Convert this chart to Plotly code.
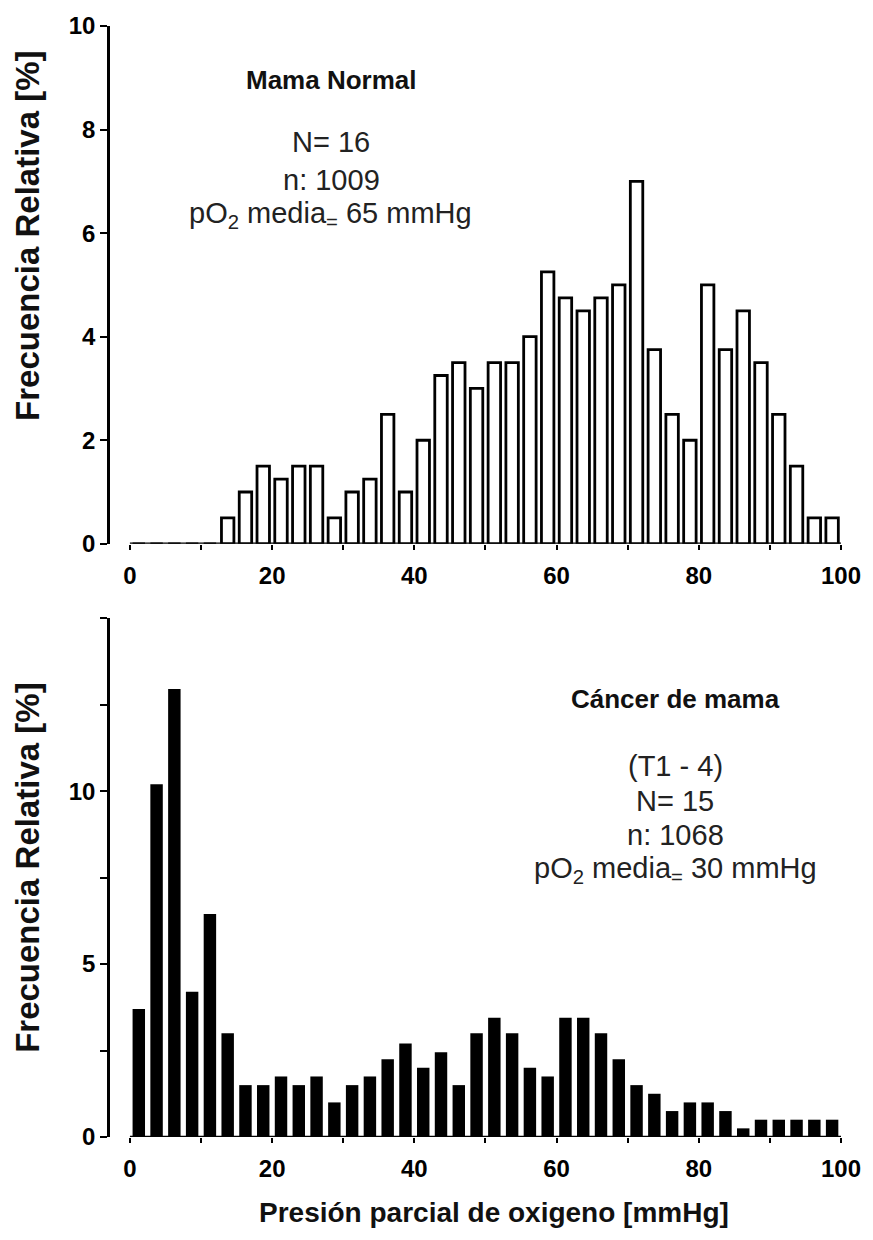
import plotly.graph_objects as go

# ---- data ----
bin_centers = [1.25, 3.75, 6.25, 8.75, 11.25, 13.75, 16.25, 18.75, 21.25, 23.75,
               26.25, 28.75, 31.25, 33.75, 36.25, 38.75, 41.25, 43.75, 46.25, 48.75,
               51.25, 53.75, 56.25, 58.75, 61.25, 63.75, 66.25, 68.75, 71.25, 73.75,
               76.25, 78.75, 81.25, 83.75, 86.25, 88.75, 91.25, 93.75, 96.25, 98.75]

normal_freq = [0, 0, 0, 0, 0, 0.5, 1.0, 1.5, 1.25, 1.5,
               1.5, 0.5, 1.0, 1.25, 2.5, 1.0, 2.0, 3.25, 3.5, 3.0,
               3.5, 3.5, 4.0, 5.25, 4.75, 4.5, 4.75, 5.0, 7.0, 3.75,
               2.5, 2.0, 5.0, 3.75, 4.5, 3.5, 2.5, 1.5, 0.5, 0.5]

cancer_freq = [3.7, 10.2, 12.95, 4.2, 6.45, 3.0, 1.5, 1.5, 1.75, 1.5,
               1.75, 1.0, 1.5, 1.75, 2.25, 2.7, 2.0, 2.45, 1.5, 3.0,
               3.45, 3.0, 2.0, 1.75, 3.45, 3.45, 3.0, 2.25, 1.5, 1.25,
               0.75, 1.0, 1.0, 0.75, 0.25, 0.5, 0.5, 0.5, 0.5, 0.5]

x_tickvals = [0, 20, 40, 60, 80, 100]
x_ticktext = ['0', '20', '40', '60', '80', '100']
x_minor_vals = [10, 30, 50, 70, 90]
y1_tickvals = [0, 2, 4, 6, 8, 10]
y1_ticktext = ['0', '2', '4', '6', '8', '10']
y2_tickvals = [0, 5, 10]
y2_ticktext = ['0', '5', '10']
y2_minor_vals = [2.5, 7.5, 12.5, 15]

# ---- layout helpers (pixel -> paper) ----
W, H = 873, 1240
L, R, T, B = 110, 26, 17, 103
PW, PH = W - L - R, H - T - B


def px(x):
    return (x - L) / PW


def py(y):
    return (H - B - y) / PH


FONT = "Liberation Sans, Arial, Helvetica, sans-serif"
TXT = "#222222"

fig = go.Figure()
fig.add_trace(go.Bar(x=bin_centers, y=normal_freq, xaxis="x", yaxis="y",
                     marker=dict(color="white", line=dict(color="black", width=2.8)),
                     showlegend=False))
fig.add_trace(go.Bar(x=bin_centers, y=cancer_freq, xaxis="x2", yaxis="y2",
                     marker=dict(color="black", line=dict(color="black", width=0)),
                     showlegend=False))

tickfont = dict(family=FONT, size=24, color="black", weight="bold")
xminor = dict(tickvals=x_minor_vals, ticks="outside", ticklen=5, tickwidth=2,
              tickcolor="black", showgrid=False)
xcommon = dict(range=[-2.8, 100], tickmode="array", tickvals=x_tickvals, ticktext=x_ticktext,
               showline=False, showgrid=False, zeroline=False,
               ticks="outside", ticklen=5, tickwidth=2, tickcolor="black",
               tickfont=tickfont, ticklabelstandoff=5, minor=xminor)
ycommon = dict(showline=True, linewidth=2.5, linecolor="black", showgrid=False,
               zeroline=False, ticks="outside", ticklen=7, tickwidth=2,
               tickcolor="black", tickfont=tickfont, tickmode="array")

top_dom = [py(539), 1.0]
bot_dom = [0.0, py(614)]

fig.update_layout(
    width=W, height=H,
    margin=dict(l=L, r=R, t=T, b=B),
    paper_bgcolor="white", plot_bgcolor="white",
    bargap=0.3,
    xaxis=dict(domain=[0, 1], anchor="y", **xcommon),
    yaxis=dict(domain=top_dom, anchor="x", range=[0, 10],
               tickvals=y1_tickvals, ticktext=y1_ticktext, **ycommon),
    xaxis2=dict(domain=[0, 1], anchor="y2", **xcommon),
    yaxis2=dict(domain=bot_dom, anchor="x2", range=[0, 15],
                tickvals=y2_tickvals, ticktext=y2_ticktext,
                minor=dict(tickvals=y2_minor_vals, ticks="outside", ticklen=7,
                           tickwidth=2, tickcolor="black", showgrid=False),
                **ycommon),
)

# x-axis baselines (offset from the y-axis, starting at 0)
for xr, yr in (("x", "y"), ("x2", "y2")):
    fig.add_shape(type="line", xref=xr, yref=yr, x0=0, x1=100, y0=0, y1=0,
                  line=dict(color="black", width=2.5), layer="above")


def note(text, x, y, size, bold=False, angle=0):
    fig.add_annotation(text=text, xref="paper", yref="paper", x=px(x), y=py(y),
                       xanchor="center", yanchor="middle", showarrow=False,
                       textangle=angle,
                       font=dict(family=FONT, size=size, color=TXT if not bold else "#111111",
                                 weight="bold" if bold else "normal"))


# panel texts
note("Mama Normal", 333, 71, 26, bold=True)
note("N= 16", 333, 134, 29)
note("n: 1009", 333, 172, 29)
note("pO<sub>2</sub> media<sub>=</sub> 65 mmHg", 332, 208, 29)

note("Cáncer de mama", 680, 695, 26, bold=True)
note("(T1 - 4)", 680, 763, 29)
note("N= 15", 680, 798, 29)
note("n: 1068", 680, 833, 29)
note("pO<sub>2</sub> media<sub>=</sub> 30 mmHg", 680, 868, 29)

# axis titles
note("Frecuencia Relativa [%]", 27, 229, 33, bold=True, angle=-90)
note("Frecuencia Relativa [%]", 27, 866, 33, bold=True, angle=-90)
note("Presión parcial de oxigeno [mmHg]", 497, 1213, 28, bold=True)

fig.write_html("out.html", config={"displayModeBar": False},
               post_script="document.body.style.margin='0';document.body.style.overflow='hidden';")
